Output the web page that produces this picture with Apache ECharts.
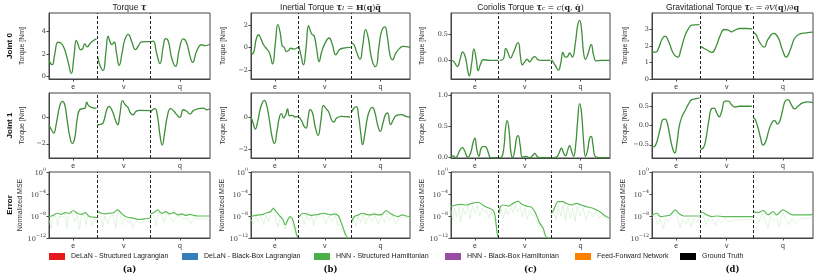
<!DOCTYPE html>
<html><head><meta charset="utf-8">
<script src="https://cdn.jsdelivr.net/npm/echarts@6/dist/echarts.min.js"></script>
<style>html,body{margin:0;padding:0;background:#fff}#c{width:830px;height:277px}</style>
</head><body><div id="c"></div>
<script>
// ---------- categories / ticks ----------
const SEG_BOUNDS = [300, 628];
const SEG_LABELS = ['e', 'v', 'q'];
const SEG_CENTERS = [150, 464, 814];
const ROW_LABELS = ['Joint 0', 'Joint 1', 'Error'];
const SUB_LABELS = ['(a)', '(b)', '(c)', '(d)'];
const LEGEND_NAMES = ['DeLaN - Structured Lagrangian', 'DeLaN - Black-Box Lagrangian', 'HNN - Structured Hamiltonian', 'HNN - Black-Box Hamiltonian', 'Feed-Forward Network', 'Ground Truth'];
const LEGEND_COLORS = ['#e41a1c', '#377eb8', '#4daf4a', '#984ea3', '#ff7f00', '#000000'];
const TITLES = [
  '{n|Torque }{t|τ}',
  '{n|Inertial Torque }{t|τ}{s|I}{m| = }{b|H}{m|(}{b|q}{m|)}{b|q̈}',
  '{n|Coriolis Torque }{t|τ}{s|c}{m| = }{i|c}{m|(}{b|q}{m|, }{b|q̇}{m|)}',
  '{n|Gravitational Torque }{t|τ}{s|c}{m| = ∂}{i|V}{m|(}{b|q}{m|)/∂}{b|q}'
];
// y ticks per panel (row-major)
const Y_TICKS = [
  [0, 2, 4], [-2, 0, 2], [0, 0.5], [0, 1, 2, 3],
  [-2, 0], [-2, 0], [0, 0.5, 1], [-0.5, 0, 0.5],
  [-12, -8, -4, 0], [-12, -8, -4, 0], [-12, -8, -4, 0], [-12, -8, -4, 0]
];
const Y_RANGE = [
  [-0.2, 5.6], [-2.8, 3.06], [-0.36, 0.91], [0, 4],
  [-3.08, 1.85], [-2.56, 1.5], [-0.005, 1.03], [-0.84, 0.83],
  [-12, 0], [-12, 0], [-12, 0], [-12, 0]
];
const Y_DECIMALS = [0, 0, 1, 0, 0, 0, 1, 1];

// ---------- torque series (x: trajectory time, y: Nm) ----------
const torque_j0 = [[0,1.56],[10,1.15],[21,1.06],[35,1.94],[56,3.03],[73,2.97],[91,2.59],[104,2.09],[118,1.35],[139,0.29],[154,1.65],[170,3.2],[183,2.73],[195,2.38],[208,2.44],[222,2.88],[237,2.62],[253,2.88],[270,3.12],[295,3.32],
  [303,1.79],[315,1.06],[336,0.56],[353,2.09],[367,3.56],[378,3.12],[390,2.82],[405,3.03],[419,2.09],[436,1.0],[454,2.09],[471,3.26],[492,3.73],[513,3.12],[537,2.38],[554,2.68],[575,3.06],[606,3.09],[627,3.09],
  [631,3.06],[647,3.12],[668,2.09],[689,1.15],[710,2.68],[724,3.35],[741,3.12],[762,1.65],[786,0.91],[809,2.38],[834,3.32],[855,2.97],[876,1.79],[892,1.26],[917,2.24],[948,2.82],[969,2.73],[1000,2.85]];
const inertial_j0 = [[0,-0.21],[10,-0.57],[21,-0.21],[33,0.75],[48,1.13],[63,0.75],[79,0.24],[100,-0.15],[117,-0.51],[136,-1.46],[153,0.39],[169,2.03],[184,1.28],[196,0.15],[209,0],[222,-0.36],[236,-0.27],[251,-0.06],[268,-0.15],[295,0.03],
  [301,0.15],[314,-0.66],[330,-1.55],[345,-0.21],[362,1.94],[372,1.52],[385,1.13],[397,1.04],[414,-0.21],[428,-1.25],[445,-0.36],[466,0.39],[491,0.84],[512,0.24],[533,-0.66],[556,-0.21],[581,-0.06],[627,0],
  [633,0.39],[648,0.24],[665,-0.45],[686,-1.04],[702,0.09],[721,1.58],[738,0.84],[752,-0.51],[769,-1.46],[784,-1.7],[805,0.09],[821,1.43],[842,1.82],[857,0.99],[874,-0.66],[890,-1.1],[911,-0.51],[936,-0.06],[957,0.09],[1000,0]];
const coriolis_j0 = [[0,0.01],[19,-0.03],[40,-0.12],[59,0.04],[73,0.16],[92,0.04],[105,-0.19],[115,-0.3],[130,-0.06],[144,0.22],[159,0.01],[171,-0.2],[186,-0.07],[203,0.01],[245,0],[297,0],
  [307,0],[328,0.02],[345,0.23],[359,0.14],[374,0.04],[391,0.14],[422,0.34],[437,0.07],[449,-0.09],[464,-0.03],[479,0.02],[495,-0.03],[512,0.04],[527,0.07],[548,0.01],[579,0],[627,0],
  [633,0.01],[654,-0.09],[675,-0.19],[690,-0.06],[704,0.15],[719,0.06],[732,0.07],[746,0.14],[763,0.06],[782,0.33],[796,0.66],[809,0.77],[821,0.59],[834,0.14],[846,0.02],[863,0.14],[882,0.3],[897,0.1],[913,-0.01],[945,0],[1000,0]];
const gravity_j0 = [[0,1.67],[21,1.61],[41,1.87],[62,2.41],[82,2.6],[103,2.27],[134,1.53],[161,1.33],[179,1.77],[206,2.66],[227,3.06],[247,3.26],[295,3.3],
  [302,1.97],[309,1.93],[340,1.77],[371,1.61],[398,1.97],[422,2.6],[449,3.0],[474,2.96],[494,2.86],[515,2.96],[546,3.06],[587,3.06],[622,3.04],
  [630,2.82],[645,2.7],[670,2.21],[696,1.93],[721,2.41],[756,2.76],[783,2.52],[810,1.77],[834,1.33],[859,1.77],[886,2.47],[917,2.72],[958,2.8],[1000,2.84]];
const torque_j1 = [[0,-0.56],[15,-0.94],[29,-1.19],[46,-0.43],[66,0.84],[83,1.22],[98,0.96],[114,-0.3],[129,-1.44],[145,-1.97],[160,-1.57],[176,-0.05],[191,0.58],[212,0.66],[224,0.71],[234,1.16],[245,0.91],[264,0.76],[295,0.68],
  [301,-0.56],[326,-0.51],[340,-0.3],[357,0.51],[373,0.84],[394,0.46],[415,-0.3],[427,-0.56],[440,0.2],[457,1.27],[473,0.96],[490,0.76],[506,0.33],[523,0.2],[540,0.46],[564,0.53],[627,0.51],
  [631,0.33],[643,0.58],[658,0.66],[674,0.08],[689,-1.32],[703,-2.1],[718,-1.19],[735,0.08],[755,0.66],[776,0.46],[797,0.15],[813,0],[834,0.58],[855,0.46],[876,0.25],[896,0.51],[928,0.66],[959,0.71],[979,0.58],[1000,0.66]];
const inertial_j1 = [[0,0.04],[13,-0.37],[27,-0.75],[42,-0.27],[63,0.67],[84,1.04],[100,0.67],[117,-0.27],[134,-1.31],[148,-1.65],[163,-0.9],[180,0.04],[192,0.21],[205,-0.06],[217,0.1],[230,0.5],[242,0.08],[259,0.1],[278,0],[297,0.04],
  [303,0],[320,-0.27],[334,-0.58],[347,-0.69],[359,-0.06],[372,0.46],[387,0.25],[403,-0.58],[422,-1.15],[439,-0.27],[456,0.73],[472,0.52],[489,0.31],[506,-0.17],[520,-0.31],[539,-0.06],[571,0.04],[623,0],
  [633,0.31],[648,0.56],[663,0.65],[677,0.04],[690,-1.0],[702,-1.73],[715,-1.1],[732,-0.06],[748,0.46],[763,0.6],[780,0.25],[796,-0.48],[813,-0.9],[830,-0.37],[846,0.15],[859,0.25],[878,-0.48],[895,-0.17],[915,0.1],[947,0.15],[974,0.04],[1000,0]];
const coriolis_j1 = [[0,0],[15,0.03],[27,0],[40,0.03],[56,0.12],[71,0.16],[86,0.11],[105,0.01],[123,0.07],[138,0.23],[150,0.31],[163,0.12],[176,0.02],[188,0.14],[203,0.18],[219,0.17],[236,0.07],[249,0],[297,0],
  [303,0],[318,0.01],[332,0.15],[343,0.47],[353,0.59],[366,0.41],[376,0.1],[387,0],[401,0.12],[412,0.31],[422,0.35],[435,0.2],[449,0.01],[470,0.02],[495,0],[512,0.03],[527,0.07],[541,0.02],[558,0],[627,0],
  [633,0],[663,0.01],[679,0.07],[694,0.15],[709,0.07],[721,0.03],[734,0.12],[746,0.19],[759,0.1],[771,0.02],[784,0.2],[796,0.57],[809,0.86],[821,0.71],[834,0.26],[846,0.02],[859,0.12],[872,0.31],[882,0.34],[893,0.2],[907,0.02],[934,0],[1000,0]];
const gravity_j1 = [[0,-0.56],[14,-0.55],[31,-0.41],[52,-0.07],[68,0.15],[82,0.16],[97,0.02],[113,-0.32],[130,-0.62],[142,-0.71],[155,-0.45],[169,-0.03],[185,0.21],[206,0.38],[227,0.55],[247,0.66],[268,0.68],[295,0.7],
  [301,-0.61],[319,-0.58],[336,-0.32],[352,0.1],[371,0.43],[385,0.44],[402,0.32],[418,0.22],[433,0.36],[453,0.62],[474,0.62],[494,0.53],[515,0.47],[546,0.49],[620,0.49],
  [630,0.19],[641,0.15],[659,-0.07],[674,-0.32],[690,-0.51],[707,-0.41],[727,-0.11],[748,0.09],[762,0.12],[779,0.03],[793,0.1],[810,0.36],[828,0.63],[845,0.66],[865,0.53],[886,0.42],[906,0.49],[933,0.57],[968,0.6],[1000,0.58]];

// ---------- error rows (log10 of normalized MSE) ----------
const errX_a   = [0,25,50,75,100,125,150,175,200,225,250,275,297, 303,325,350,375,400,425,450,475,500,525,550,575,600,626, 631,650,675,700,725,750,775,800,825,850,875,900,925,950,975,1000];
const errMid_a = [-8.1,-7.9,-7.5,-7.7,-7.4,-7.5,-7.0,-7.5,-7.7,-7.4,-8.1,-8.2,-8.3, -7.2,-7.5,-7.6,-7.5,-7.4,-6.9,-7.5,-8.1,-8.3,-8.4,-8.6,-8.6,-8.5,-8.4, -7.6,-7.4,-6.9,-7.5,-7.2,-7.6,-7.4,-7.8,-7.6,-7.9,-7.7,-7.9,-8.0,-8.0,-8.0,-8.0];
const errLo_a  = [-9.3,-9.2,-8.8,-9.1,-8.7,-8.9,-8.3,-8.8,-9.0,-8.7,-9.4,-9.5,-9.5, -8.4,-8.7,-8.9,-8.8,-8.7,-8.1,-8.8,-9.4,-9.6,-9.7,-9.8,-9.8,-9.7,-9.6, -8.7,-8.5,-8.0,-8.7,-8.3,-8.8,-8.6,-9.0,-8.8,-9.1,-8.9,-9.1,-9.2,-9.2,-9.2,-9.2];
const errHi_a  = [-7.5,-7.3,-6.9,-7.1,-6.8,-6.9,-6.4,-6.9,-7.1,-6.8,-7.5,-7.7,-7.8, -6.7,-6.9,-7.0,-6.9,-6.8,-6.3,-6.9,-7.5,-7.7,-7.8,-8.0,-8.0,-7.9,-7.8, -7.0,-6.8,-6.3,-6.9,-6.6,-7.0,-6.8,-7.2,-7.0,-7.3,-7.1,-7.3,-7.4,-7.4,-7.4,-7.4];
const errRun_a = [[0,-8.6],[12,-10.3],[20,-8.4],[40,-8.0],[55,-9.8],[65,-8.0],[85,-8.2],[100,-7.6],[110,-10.2],[120,-8.0],[140,-7.3],[160,-9.0],[175,-7.8],[190,-10.4],[200,-8.2],[215,-7.8],[230,-9.6],[240,-8.0],[255,-7.9],[265,-9.8],[280,-8.6],[297,-8.8],
  [303,-7.6],[320,-8.2],[335,-10.2],[345,-8.0],[365,-9.4],[380,-8.0],[400,-7.9],[415,-10.3],[425,-7.4],[440,-7.6],[455,-9.6],[470,-8.4],[490,-9.2],[505,-8.8],[520,-10.1],[540,-9.0],[570,-9.2],[600,-9.0],[626,-8.9],
  [631,-8.0],[650,-7.8],[665,-9.7],[680,-7.3],[700,-8.0],[715,-9.2],[730,-7.6],[750,-8.1],[770,-9.0],[790,-8.2],[815,-8.0],[840,-8.6],[860,-8.3],[880,-9.4],[900,-8.4],[940,-8.5],[970,-8.5],[1000,-8.5]];

const errX_b   = [0,25,50,75,100,125,140,150,175,200,215,230,245,260,275,288,297, 303,325,350,375,400,425,450,475,500,525,550,565,580,595,610,626, 633,650,675,700,725,750,775,800,825,850,875,900,925,950,975,1000];
const errMid_b = [-8.1,-7.9,-7.8,-7.7,-7.4,-7.2,-6.6,-6.9,-7.8,-8.6,-9.6,-8.8,-8.1,-8.5,-10.0,-11.5,-12, -8.1,-7.5,-7.6,-7.9,-7.8,-7.7,-7.5,-7.6,-7.8,-7.6,-8.0,-9.0,-10.2,-11.4,-12,-12, -9.0,-8.1,-7.8,-7.5,-7.7,-7.8,-7.6,-7.8,-7.7,-7.0,-7.5,-7.9,-8.1,-7.8,-8.0,-8.1];
const errLo_b  = [-9.2,-9.1,-9.0,-8.9,-8.6,-8.4,-7.8,-8.1,-9.0,-9.8,-10.8,-10.0,-9.3,-9.7,-11.2,-12,-12, -9.3,-8.7,-8.8,-9.1,-9.0,-8.9,-8.7,-8.8,-9.0,-8.8,-9.2,-10.2,-11.4,-12,-12,-12, -10.5,-9.3,-9.0,-8.7,-8.9,-9.0,-8.8,-9.0,-8.9,-8.2,-8.7,-9.1,-9.3,-9.0,-9.2,-9.3];
const errHi_b  = [-7.6,-7.3,-7.2,-7.1,-6.8,-6.6,-6.0,-6.3,-7.2,-8.0,-9.0,-8.2,-7.5,-7.9,-9.4,-10.9,-12, -7.5,-6.9,-7.0,-7.3,-7.2,-7.1,-6.9,-7.0,-7.2,-7.0,-7.4,-8.4,-9.6,-10.8,-12,-12, -8.4,-7.5,-7.2,-6.9,-7.1,-7.2,-7.0,-7.2,-7.1,-6.4,-6.9,-7.3,-7.5,-7.2,-7.4,-7.5];
const errRun_b = [[0,-8.6],[15,-9.5],[30,-8.0],[45,-9.2],[60,-7.6],[80,-9.6],[95,-7.8],[110,-9.0],[125,-7.0],[140,-6.4],[155,-8.5],[170,-10.0],[185,-8.2],[200,-9.3],[215,-10.5],[230,-8.6],[245,-8.3],[260,-9.5],[275,-10.6],[290,-12],
  [303,-8.5],[320,-7.9],[335,-9.6],[350,-7.9],[365,-8.8],[380,-8.0],[395,-9.8],[410,-7.9],[430,-8.4],[450,-7.8],[470,-9.4],[490,-8.0],[510,-9.0],[530,-7.8],[545,-9.8],[560,-9.6],[580,-10.8],[600,-12],
  [633,-10],[645,-8.4],[660,-9.8],[675,-8.0],[690,-9.3],[705,-7.6],[720,-9.5],[740,-8.0],[760,-9.0],[780,-7.8],[800,-9.5],[820,-8.0],[840,-9.2],[855,-7.2],[870,-8.8],[890,-8.0],[910,-9.4],[930,-8.4],[960,-8.2],[1000,-8.4]];

const errX_c   = [0,31,67,98,130,172,199,224,241,262,276,290,297, 303,311,332,359,391,422,443,474,506,527,541,558,579,596,610,626, 631,646,673,704,725,757,788,819,851,892,934,976,997];
const errMid_c = [-6.3,-6.0,-5.9,-6.0,-5.7,-5.5,-6.0,-6.4,-6.6,-6.9,-7.8,-11.1,-12, -7.5,-6.3,-6.0,-6.2,-5.7,-5.3,-5.8,-6.2,-6.4,-7.2,-8.1,-9.3,-10.2,-11.7,-12,-12, -7.5,-6.9,-5.4,-5.4,-5.7,-6.0,-5.7,-6.0,-6.3,-6.6,-7.2,-8.1,-8.4];
const errLo_c  = [-7.2,-6.9,-6.8,-6.9,-6.6,-6.4,-6.9,-7.3,-7.6,-8.0,-9.0,-12,-12, -8.6,-7.2,-6.9,-7.1,-6.6,-6.2,-6.7,-7.1,-7.3,-8.2,-9.2,-10.4,-11.4,-12,-12,-12, -8.5,-7.8,-6.3,-6.3,-6.6,-6.9,-6.6,-6.9,-7.2,-7.5,-8.1,-9.0,-9.3];
const errHi_c  = [-5.8,-5.5,-5.4,-5.5,-5.2,-5.0,-5.5,-5.9,-6.1,-6.4,-7.2,-10.4,-12, -7.0,-5.8,-5.5,-5.7,-5.2,-4.9,-5.3,-5.7,-5.9,-6.6,-7.5,-8.6,-9.6,-11.0,-12,-12, -7.0,-6.4,-4.9,-4.9,-5.2,-5.5,-5.2,-5.5,-5.8,-6.1,-6.7,-7.6,-7.9];
const errRun_c = [[0,-6.8],[10,-8.8],[20,-6.5],[35,-8.2],[50,-6.4],[60,-9.0],[75,-6.5],[90,-7.8],[105,-6.2],[120,-8.5],[135,-6.2],[150,-7.6],[165,-6.0],[180,-8.0],[195,-6.5],[210,-7.2],[225,-6.9],[240,-8.4],[255,-7.2],[270,-8.5],[285,-10],[297,-12],
  [303,-8],[315,-6.8],[330,-8.4],[345,-6.6],[360,-7.8],[375,-6.2],[390,-7.4],[405,-5.8],[420,-7.2],[435,-6.3],[450,-8.2],[465,-6.6],[480,-8.6],[495,-6.9],[510,-8.0],[525,-7.7],[540,-9.0],[560,-10],[580,-11],[600,-12],
  [631,-8.2],[645,-7.4],[660,-8.6],[675,-6.0],[690,-8.0],[705,-6.0],[720,-8.8],[735,-6.2],[750,-8.4],[765,-6.5],[780,-9.0],[795,-6.2],[810,-8.0],[830,-6.5],[850,-8.8],[870,-7.0],[890,-8.2],[910,-7.2],[930,-8.4],[950,-7.8],[975,-8.6],[1000,-8.9]];

const errX_d   = [0,31,52,82,113,144,165,196,237,270,297, 301,319,340,371,402,443,500,560,626, 630,659,690,721,752,773,814,845,876,917,958,1000];
const errMid_d = [-7.8,-7.5,-8.1,-8.0,-7.8,-6.9,-7.5,-8.0,-8.0,-8.0,-8.0, -7.2,-7.4,-7.8,-8.1,-8.0,-8.1,-8.1,-8.1,-8.1, -7.2,-7.4,-7.0,-7.8,-7.2,-7.8,-6.9,-7.4,-7.8,-7.8,-7.8,-7.7];
const errLo_d  = [-8.8,-8.5,-9.1,-9.0,-8.8,-7.9,-8.5,-9.0,-9.0,-9.0,-9.0, -8.2,-8.4,-8.8,-9.1,-9.0,-9.1,-9.1,-9.1,-9.1, -8.2,-8.4,-8.0,-8.8,-8.2,-8.8,-7.9,-8.4,-8.8,-8.8,-8.8,-8.7];
const errHi_d  = [-7.3,-7.0,-7.6,-7.5,-7.3,-6.4,-7.0,-7.5,-7.5,-7.5,-7.5, -6.7,-6.9,-7.3,-7.6,-7.5,-7.6,-7.6,-7.6,-7.6, -6.7,-6.9,-6.5,-7.3,-6.7,-7.3,-6.4,-6.9,-7.3,-7.3,-7.3,-7.2];
const errRun_d = [[0,-8.3],[20,-8.0],[35,-9.5],[50,-8.5],[70,-10.3],[85,-8.4],[100,-9.0],[120,-8.2],[140,-7.3],[160,-8.4],[175,-10.2],[190,-8.6],[210,-9.5],[225,-8.4],[245,-10.0],[260,-8.5],[280,-9.0],[297,-8.5],
  [301,-7.6],[320,-8.0],[335,-9.6],[350,-8.4],[365,-9.0],[380,-8.6],[395,-9.8],[410,-8.5],[430,-9.2],[450,-8.5],[480,-9.0],[520,-8.6],[560,-8.7],[600,-8.6],[626,-8.6],
  [630,-7.7],[650,-8.2],[665,-9.2],[680,-7.6],[700,-8.6],[720,-10.3],[735,-8.0],[755,-9.0],[775,-8.4],[790,-10.0],[810,-7.4],[830,-8.5],[850,-9.6],[870,-8.4],[890,-9.4],[920,-8.5],[960,-8.4],[1000,-8.3]];

// ---------- build ----------
const TORQUE = [torque_j0, inertial_j0, coriolis_j0, gravity_j0, torque_j1, inertial_j1, coriolis_j1, gravity_j1];
const ERR = [
  [errX_a, errMid_a, errLo_a, errHi_a, errRun_a],
  [errX_b, errMid_b, errLo_b, errHi_b, errRun_b],
  [errX_c, errMid_c, errLo_c, errHi_c, errRun_c],
  [errX_d, errMid_d, errLo_d, errHi_d, errRun_d]
];

const colLeft = [49, 251, 451, 652], colWidth = [161, 159, 159, 161];
const rowTop = [13, 93, 172], rowHeight = [66, 65, 66];
const nameGapTorque = [23, 24, 25, 23];
const nameGapErr = [20, 20, 20, 20];
const SANS = '"Liberation Sans", Arial, sans-serif';
const SERIF = '"DejaVu Serif", "Liberation Serif", serif';
const LINE_GREEN = '#3f8f3a';

function segIndex(x) { return x < SEG_BOUNDS[0] ? 0 : (x < SEG_BOUNDS[1] ? 1 : 2); }
function splitPoints(pts) { const o = [[], [], []]; pts.forEach(p => o[segIndex(p[0])].push(p)); return o; }

const grid = [], xAxis = [], yAxis = [], series = [];
const dashed = { symbol: 'none', silent: true, label: { show: false }, animation: false,
  lineStyle: { type: [3, 2], color: '#222', width: 1 }, data: SEG_BOUNDS.map(b => ({ xAxis: b })) };

function fmtY(g, v) {
  if (g >= 8) return '{b|10}{s|' + String(v).replace('-', '−') + '}';
  const d = Y_DECIMALS[g];
  return (d ? v.toFixed(d) : String(v)).replace('-', '−');
}

for (let r = 0; r < 3; r++) for (let c = 0; c < 4; c++) {
  const g = r * 4 + c;
  grid.push({ left: colLeft[c], top: rowTop[r], width: colWidth[c], height: rowHeight[r], show: true, borderColor: '#444', borderWidth: 1, containLabel: false });
  xAxis.push({ type: 'value', gridIndex: g, min: 0, max: 1000,
    axisLine: { show: true, onZero: false, lineStyle: { color: '#444', width: 1 } },
    splitLine: { show: false },
    axisTick: { show: true, customValues: SEG_CENTERS, length: 2.5, lineStyle: { color: '#444' } },
    axisLabel: { customValues: SEG_CENTERS, formatter: v => SEG_LABELS[SEG_CENTERS.indexOf(v)], fontSize: 7, fontFamily: SANS, color: '#333', margin: 5 } });
  yAxis.push({ type: 'value', gridIndex: g, min: Y_RANGE[g][0], max: Y_RANGE[g][1],
    axisLine: { show: true, onZero: false, lineStyle: { color: '#444', width: 1 } },
    splitLine: { show: false },
    axisTick: { show: true, customValues: Y_TICKS[g], length: 2.5, lineStyle: { color: '#444' } },
    axisLabel: { customValues: Y_TICKS[g], formatter: v => fmtY(g, v), fontSize: 6.5, fontFamily: SERIF, color: '#333', margin: 3,
      rich: { b: { fontSize: 6.5, fontFamily: SERIF, color: '#333', lineHeight: 10, verticalAlign: 'bottom' },
              s: { fontSize: 4.8, fontFamily: SERIF, color: '#333', lineHeight: 6, verticalAlign: 'top' } } },
    name: r < 2 ? 'Torque [Nm]' : 'Normalized MSE', nameLocation: 'middle', nameGap: r < 2 ? nameGapTorque[c] : nameGapErr[c],
    nameTextStyle: { fontSize: 7, fontFamily: SANS, color: '#333' } });

  if (r < 2) {
    splitPoints(TORQUE[g]).forEach((seg, s) => {
      series.push({ type: 'line', xAxisIndex: g, yAxisIndex: g, data: seg, smooth: 0.5, showSymbol: false, silent: true, animation: false,
        lineStyle: { color: LINE_GREEN, width: 1.3 }, itemStyle: { color: LINE_GREEN }, z: 3,
        markLine: s === 0 ? dashed : undefined });
    });
  } else {
    const [X, M, L, H, RUN] = ERR[c];
    const idx = [[], [], []];
    X.forEach((x, i) => idx[segIndex(x)].push(i));
    idx.forEach((ids, s) => {
      const key = 'band' + g + '_' + s;
      series.push({ type: 'line', xAxisIndex: g, yAxisIndex: g, stack: key, stackStrategy: 'all', data: ids.map(i => [X[i], L[i]]),
        smooth: 0.3, showSymbol: false, silent: true, animation: false, lineStyle: { opacity: 0 }, z: 1 });
      series.push({ type: 'line', xAxisIndex: g, yAxisIndex: g, stack: key, stackStrategy: 'all', data: ids.map(i => [X[i], H[i] - L[i]]),
        smooth: 0.3, showSymbol: false, silent: true, animation: false, lineStyle: { opacity: 0 },
        areaStyle: { color: '#d2edcf', opacity: 1 }, z: 1 });
    });
    splitPoints(RUN).forEach(seg => {
      series.push({ type: 'line', xAxisIndex: g, yAxisIndex: g, data: seg, showSymbol: false, silent: true, animation: false,
        lineStyle: { color: '#c4e8c0', width: 0.5 }, z: 2 });
    });
    idx.forEach((ids, s) => {
      series.push({ type: 'line', xAxisIndex: g, yAxisIndex: g, data: ids.map(i => [X[i], M[i]]), smooth: 0.3, showSymbol: false, silent: true, animation: false,
        lineStyle: { color: '#5cbb57', width: 1.2 }, z: 3, markLine: s === 0 ? dashed : undefined });
    });
  }
}

// legend dummies
LEGEND_NAMES.forEach((n, i) => series.push({ type: 'line', name: n, data: [], xAxisIndex: 0, yAxisIndex: 0,
  itemStyle: { color: LEGEND_COLORS[i] }, lineStyle: { color: LEGEND_COLORS[i] } }));
const legendLeft = [49, 182, 314, 445, 575, 680];
const legend = LEGEND_NAMES.map((n, i) => ({ left: legendLeft[i], top: 253, itemWidth: 16, itemHeight: 7, itemGap: 4,
  selectedMode: false, data: [{ name: n, icon: 'rect' }], textStyle: { fontSize: 7, fontFamily: SANS, color: '#222', padding: [0, 0, 0, 1] }, padding: 0 }));

const titleRich = {
  n: { fontFamily: SANS, fontSize: 8.5, color: '#222', lineHeight: 11, verticalAlign: 'bottom' },
  m: { fontFamily: SERIF, fontSize: 8, color: '#222', lineHeight: 11, verticalAlign: 'bottom' },
  t: { fontFamily: SERIF, fontWeight: 'bold', fontStyle: 'italic', fontSize: 8.5, color: '#222', lineHeight: 11, verticalAlign: 'bottom' },
  s: { fontFamily: SERIF, fontStyle: 'italic', fontSize: 5.5, color: '#222', lineHeight: 7, verticalAlign: 'bottom' },
  b: { fontFamily: SERIF, fontWeight: 'bold', fontSize: 8, color: '#222', lineHeight: 11, verticalAlign: 'bottom' },
  i: { fontFamily: SERIF, fontStyle: 'italic', fontSize: 8, color: '#222', lineHeight: 11, verticalAlign: 'bottom' }
};
const title = TITLES.map((t, c) => ({ text: t, left: colLeft[c] + colWidth[c] / 2, textAlign: 'center', top: 1, padding: 0,
  textStyle: { fontSize: 8.5, fontWeight: 'normal', fontFamily: SANS, color: '#222', rich: titleRich } }));

const graphic = [];
ROW_LABELS.forEach((t, r) => graphic.push({ type: 'text', x: 10, y: rowTop[r] + rowHeight[r] / 2, rotation: Math.PI / 2,
  style: { text: t, font: 'bold 8px ' + SANS, fill: '#111', align: 'center', verticalAlign: 'middle' } }));
SUB_LABELS.forEach((t, c) => graphic.push({ type: 'text', x: colLeft[c] + colWidth[c] / 2, y: 270,
  style: { text: t, font: 'bold 8.5px ' + SERIF, fill: '#111', align: 'center', verticalAlign: 'middle' } }));

const chart = echarts.init(document.getElementById('c'), null, { renderer: 'canvas' });
chart.setOption({ animation: false, backgroundColor: '#fff', grid, xAxis, yAxis, series, legend, title, graphic });
</script></body></html>
